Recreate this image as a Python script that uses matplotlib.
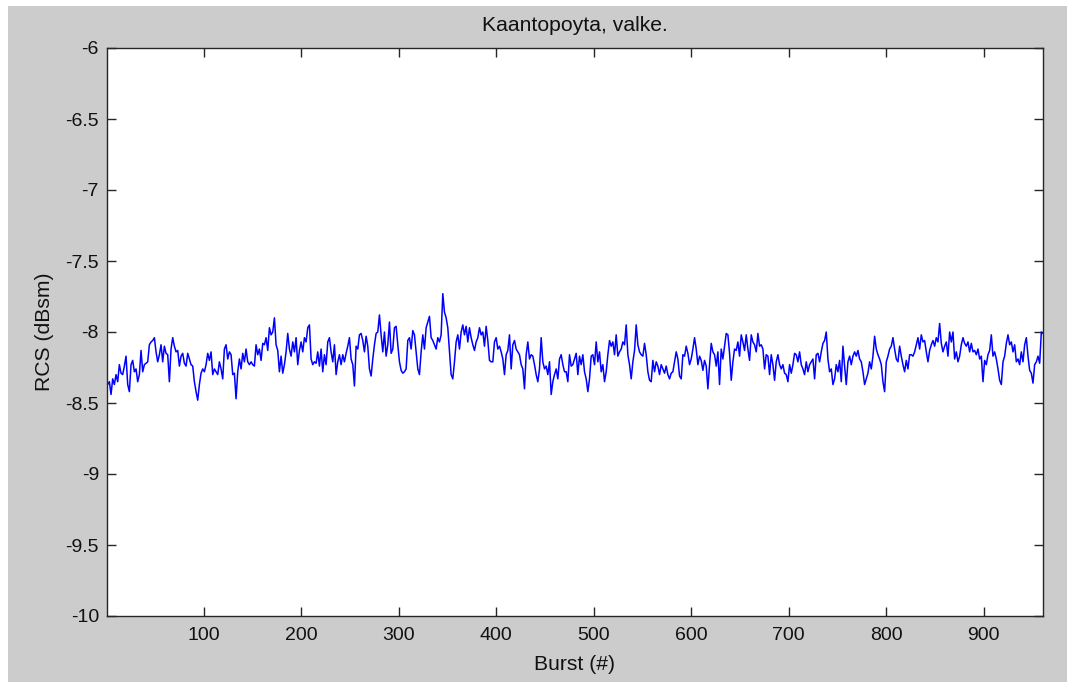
import numpy as np
import matplotlib
matplotlib.use("Agg")
import matplotlib.pyplot as plt
from matplotlib.patches import Rectangle
from matplotlib.ticker import FixedLocator, FuncFormatter

plt.rcParams['font.family'] = ['Liberation Sans', 'DejaVu Sans']
plt.rcParams['axes.unicode_minus'] = False

title = "Kaantopoyta, valke."
xlabel = "Burst (#)"
ylabel = "RCS (dBsm)"

# RCS, evenly spaced from burst 0 to burst 961
first_burst = 0
last_burst = 961
rcs = [
    # ~bursts 0-117
    -8.29, -8.37, -8.35, -8.44, -8.33, -8.37, -8.30, -8.35, -8.23, -8.29,
    -8.30, -8.24, -8.17, -8.37, -8.42, -8.23, -8.20, -8.28, -8.26, -8.35,
    -8.30, -8.13, -8.28, -8.23, -8.22, -8.21, -8.09, -8.07, -8.06, -8.04,
    -8.14, -8.21, -8.16, -8.09, -8.21, -8.10, -8.15, -8.16, -8.35, -8.12,
    -8.04, -8.10, -8.14, -8.13, -8.24, -8.17, -8.15, -8.22, -8.24, -8.15,
    -8.19, -8.23, -8.24, -8.35, -8.42, -8.48, -8.37, -8.29, -8.26, -8.28,
    -8.23, -8.15, -8.20, -8.14, -8.30, -8.26, -8.28, -8.30, -8.21,
    # ~bursts 117-235
    -8.26, -8.33, -8.12, -8.09, -8.19, -8.14, -8.16, -8.30, -8.29, -8.47,
    -8.28, -8.19, -8.26, -8.15, -8.21, -8.12, -8.21, -8.23, -8.21, -8.23,
    -8.24, -8.09, -8.16, -8.12, -8.20, -8.08, -8.09, -8.04, -8.13, -7.97,
    -8.02, -8.00, -7.90, -8.09, -8.13, -8.28, -8.17, -8.29, -8.23, -8.14,
    -8.01, -8.12, -8.17, -8.07, -8.14, -8.04, -8.23, -8.13, -8.07, -8.14,
    -8.04, -8.07, -7.97, -7.95, -8.19, -8.23, -8.21, -8.22, -8.14, -8.24,
    -8.12, -8.28, -8.16, -8.23, -8.07, -8.04, -8.14, -8.21, -8.09,
    # ~bursts 235-353
    -8.30, -8.21, -8.16, -8.23, -8.16, -8.21, -8.15, -8.10, -8.04, -8.19,
    -8.23, -8.38, -8.10, -8.12, -8.02, -8.01, -8.06, -8.14, -8.03, -8.10,
    -8.26, -8.31, -8.19, -8.09, -8.01, -8.00, -7.88, -8.02, -8.14, -8.00,
    -8.17, -8.09, -7.93, -8.15, -8.12, -7.97, -7.96, -8.09, -8.21, -8.27,
    -8.29, -8.28, -8.26, -8.06, -8.04, -8.12, -7.99, -8.02, -8.14, -8.26,
    -8.30, -8.14, -8.02, -8.12, -7.97, -7.93, -7.89, -8.04, -8.06, -8.09,
    -8.12, -8.04, -8.07, -8.02, -7.73, -7.86, -7.90, -7.97, -8.14,
    # ~bursts 353-471
    -8.30, -8.33, -8.21, -8.07, -8.02, -8.12, -8.00, -7.95, -8.02, -7.96,
    -8.07, -7.97, -8.04, -8.09, -8.13, -8.07, -8.04, -7.97, -8.02, -8.00,
    -8.10, -7.96, -8.06, -8.20, -8.21, -8.21, -8.07, -8.04, -8.12, -8.10,
    -8.14, -8.19, -8.30, -8.16, -8.13, -8.02, -8.26, -8.09, -8.06, -8.12,
    -8.14, -8.16, -8.23, -8.26, -8.40, -8.16, -8.07, -8.19, -8.16, -8.17,
    -8.23, -8.30, -8.35, -8.26, -8.04, -8.21, -8.26, -8.24, -8.30, -8.21,
    -8.44, -8.35, -8.30, -8.26, -8.33, -8.19, -8.16, -8.23, -8.28,
    # ~bursts 471-589
    -8.28, -8.35, -8.16, -8.24, -8.23, -8.19, -8.15, -8.30, -8.17, -8.23,
    -8.16, -8.28, -8.33, -8.42, -8.33, -8.17, -8.16, -8.23, -8.07, -8.21,
    -8.14, -8.28, -8.23, -8.35, -8.28, -8.16, -8.06, -8.10, -8.07, -8.16,
    -8.02, -8.17, -8.14, -8.12, -8.07, -8.09, -7.95, -8.16, -8.23, -8.33,
    -8.21, -8.13, -7.95, -8.09, -8.14, -8.16, -8.17, -8.08, -8.16, -8.28,
    -8.34, -8.35, -8.20, -8.28, -8.21, -8.24, -8.30, -8.23, -8.26, -8.29,
    -8.24, -8.30, -8.33, -8.29, -8.28, -8.21, -8.14, -8.19, -8.31,
    # ~bursts 589-707
    -8.33, -8.16, -8.17, -8.10, -8.15, -8.23, -8.19, -8.12, -8.04, -8.12,
    -8.23, -8.17, -8.20, -8.27, -8.20, -8.24, -8.40, -8.23, -8.08, -8.14,
    -8.16, -8.24, -8.14, -8.37, -8.12, -8.19, -8.10, -8.01, -8.02, -8.15,
    -8.34, -8.21, -8.12, -8.13, -8.07, -8.17, -8.02, -8.07, -8.13, -8.02,
    -8.12, -8.20, -8.02, -8.07, -8.09, -8.14, -8.01, -8.10, -8.09, -8.12,
    -8.26, -8.16, -8.17, -8.30, -8.16, -8.23, -8.34, -8.21, -8.16, -8.23,
    -8.26, -8.23, -8.29, -8.30, -8.35, -8.23, -8.29, -8.23, -8.15,
    # ~bursts 707-825
    -8.16, -8.21, -8.14, -8.23, -8.26, -8.30, -8.21, -8.28, -8.23, -8.21,
    -8.19, -8.33, -8.16, -8.15, -8.21, -8.14, -8.08, -8.06, -8.00, -8.19,
    -8.28, -8.26, -8.37, -8.33, -8.23, -8.28, -8.20, -8.35, -8.10, -8.24,
    -8.37, -8.21, -8.17, -8.23, -8.17, -8.14, -8.17, -8.13, -8.19, -8.21,
    -8.28, -8.37, -8.33, -8.29, -8.21, -8.26, -8.17, -8.03, -8.12, -8.16,
    -8.19, -8.23, -8.35, -8.42, -8.21, -8.17, -8.12, -8.10, -8.04, -8.12,
    -8.19, -8.21, -8.10, -8.17, -8.23, -8.28, -8.20, -8.26, -8.16,
    # ~bursts 825-961
    -8.16, -8.17, -8.14, -8.09, -8.04, -8.12, -8.02, -8.07, -8.06, -8.14,
    -8.21, -8.13, -8.09, -8.06, -8.10, -8.04, -8.07, -7.94, -8.08, -8.14,
    -8.10, -8.07, -8.17, -8.00, -8.07, -8.00, -8.19, -8.14, -8.21, -8.17,
    -8.09, -8.04, -8.08, -8.10, -8.07, -8.14, -8.08, -8.14, -8.13, -8.16,
    -8.12, -8.19, -8.17, -8.35, -8.20, -8.23, -8.16, -8.13, -8.02, -8.17,
    -8.14, -8.19, -8.26, -8.34, -8.37, -8.21, -8.17, -8.08, -8.02, -8.09,
    -8.07, -8.14, -8.09, -8.21, -8.19, -8.23, -8.14, -8.21, -8.09, -8.04,
    -8.17, -8.27, -8.29, -8.36, -8.23, -8.21, -8.17, -8.22, -8.00, -8.01,
]
bursts = np.linspace(first_burst, last_burst, len(rcs))

xticks = [100, 200, 300, 400, 500, 600, 700, 800, 900]
yticks = [-10, -9.5, -9, -8.5, -8, -7.5, -7, -6.5, -6]

W, H = 1067, 682
fig = plt.figure(figsize=(W / 100, H / 100), dpi=100)
fig.patch.set_facecolor('white')
fig.patches.append(Rectangle((8 / W, 0), 1 - 8 / W, 1 - 6 / H, transform=fig.transFigure,
                             facecolor='#cccccc', edgecolor='none', zorder=-10))

ax = fig.add_axes([107 / W, (H - 616) / H, (1043 - 107) / W, (616 - 48) / H])
ax.set_facecolor('white')
ax.plot(bursts, rcs, color='#0000ff', linewidth=1.1)

ax.set_xlim(1, 961)
ax.set_ylim(-10, -6)
ax.xaxis.set_major_locator(FixedLocator(xticks))
ax.yaxis.set_major_locator(FixedLocator(yticks))
ax.yaxis.set_major_formatter(FuncFormatter(lambda v, p: '%g' % v))
ax.xaxis.set_major_formatter(FuncFormatter(lambda v, p: '%g' % v))

ax.tick_params(direction='in', length=6.5, width=1.0, color='#262626',
               top=True, right=True, labelsize=14, labelcolor='#111111')
ax.tick_params(axis='x', pad=8)
ax.tick_params(axis='y', pad=5.8)
for s in ax.spines.values():
    s.set_color('#262626')
    s.set_linewidth(1.0)

ax.set_title(title, fontsize=15.2, color='#111111', pad=12.5)
ax.set_xlabel(xlabel, fontsize=15.2, color='#111111', labelpad=8)
ax.set_ylabel(ylabel, fontsize=15.2, color='#111111', labelpad=8.5)

fig.savefig('out.png', dpi=100, facecolor=fig.get_facecolor())
